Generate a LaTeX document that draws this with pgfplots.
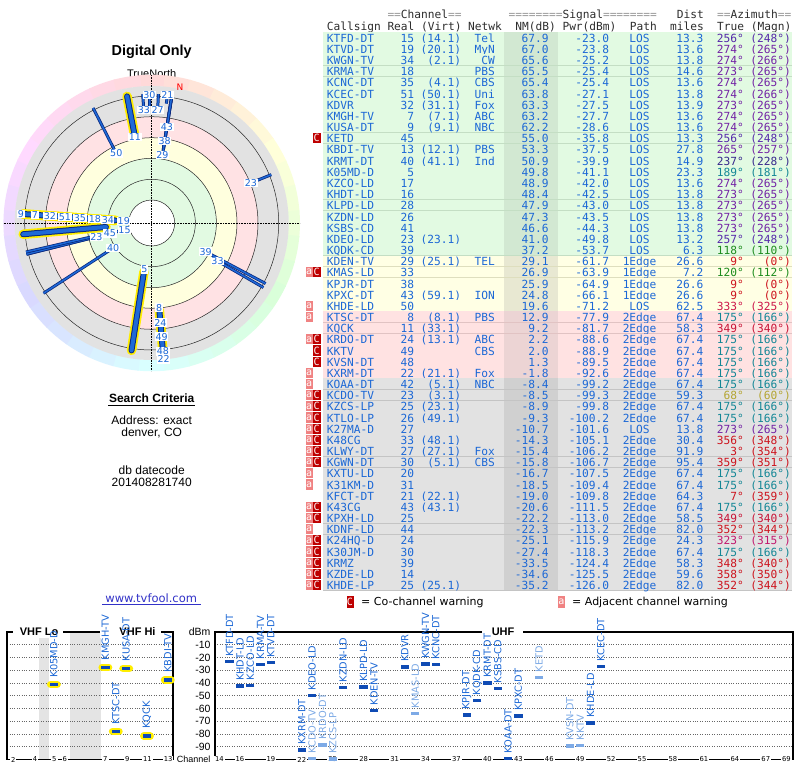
\documentclass[border=0pt]{standalone}
\usepackage{fontspec}
\setmainfont{Liberation Sans}
\newfontfamily\dejavu{DejaVu Sans}
\newfontfamily\dmono{DejaVu Sans Mono}
\usepackage{pgfplots}
\usepackage{pgfplotstable}
\pgfplotsset{compat=1.18}

% colours
\definecolor{tblue}{RGB}{28,104,214}
\definecolor{lblue}{RGB}{125,170,230}
\definecolor{mblue}{RGB}{15,75,180}
\definecolor{navy}{RGB}{10,40,125}
\definecolor{barblue}{RGB}{30,105,215}
\definecolor{vhfy}{RGB}{255,238,0}
\definecolor{hdr}{RGB}{45,45,45}
\definecolor{eqgray}{RGB}{150,150,150}
\definecolor{bgG}{RGB}{226,250,226}\definecolor{shG}{RGB}{210,232,210}\definecolor{spG}{RGB}{196,222,196}
\definecolor{bgY}{RGB}{255,255,228}\definecolor{shY}{RGB}{232,232,210}\definecolor{spY}{RGB}{222,222,190}
\definecolor{bgP}{RGB}{255,226,226}\definecolor{shP}{RGB}{236,212,212}\definecolor{spP}{RGB}{225,195,195}
\definecolor{bgK}{RGB}{226,226,226}\definecolor{shK}{RGB}{208,208,208}\definecolor{spK}{RGB}{196,196,196}
\definecolor{flagA}{RGB}{240,130,130}
\definecolor{flagC}{RGB}{190,0,0}
\definecolor{azA}{RGB}{85,40,170}
\definecolor{azB}{RGB}{115,35,165}
\definecolor{azN}{RGB}{55,40,140}
\definecolor{azT}{RGB}{20,135,150}
\definecolor{azG}{RGB}{30,140,30}
\definecolor{azR}{RGB}{205,20,30}
\definecolor{azC}{RGB}{200,20,55}
\definecolor{azM}{RGB}{205,25,75}
\definecolor{azM2}{RGB}{195,25,110}
\definecolor{azO}{RGB}{180,165,50}
\definecolor{ringgray}{RGB}{226,226,226}
\definecolor{ringpink}{RGB}{255,226,228}
\definecolor{ringyel}{RGB}{255,255,222}
\definecolor{ringgrn}{RGB}{226,250,226}
\definecolor{bandgray}{RGB}{228,228,228}
\definecolor{linkblue}{RGB}{50,50,200}

\newcommand\tfont{\dmono\fontsize{11.2}{12}\selectfont}
\newcommand\labfont{\dejavu\fontsize{9.8}{10}\selectfont}
\newcommand\plabfont{\dejavu\fontsize{9.5}{10}\selectfont}
\newcommand\tickfont{\dejavu\fontsize{6.8}{7}\selectfont}
\newcommand\yfont{\fontsize{10.5}{11}\selectfont}
\newcommand\secfont{\bfseries\fontsize{11}{12}\selectfont}

% radial bars of the polar plot: (math angle = 90 - bearing, inner radius)
\newcommand\ubar[2]{%
  \addplot[draw=navy, line width=3pt, data cs=polar] coordinates {(#1,#2) (#1,129)};
  \addplot[draw=barblue, line width=1.5pt, data cs=polar] coordinates {(#1,#2) (#1,129)};}
\newcommand\vbar[2]{%
  \addplot[draw=vhfy, line width=9.5pt, line cap=round, data cs=polar] coordinates {(#1,#2) (#1,129)};
  \addplot[draw=navy, line width=6pt, line cap=round, data cs=polar] coordinates {(#1,#2) (#1,129)};
  \addplot[draw=barblue, line width=4pt, line cap=round, data cs=polar] coordinates {(#1,#2) (#1,129)};}

% polar labels: math angle, radius, channel
\pgfplotstableread{
a r lab
-184 28 19
-184 44 34
-184 57 18
-184 72 35
-184 87 51
-184 102 32
-184 117 7
-184 131 9
-166 28 15
-166 43 45
-166 57 23
-147 46 40
-99 47 5
-85 85 8
-85 100 24
-85 114 49
-85 129 48
-85 137 22
-28 61 39
-30 76 33
22 107 23
81 69 29
81 83 38
81 97 43
83 129 21
91 128 30
94 113 33
87 113 27
101 88 11
117 78 50
}\polarlabels

% VHF: x = slot position (ch2-4 at 2-4, ch5-6 after the 72-76 MHz gap, ch7-13 after the FM gap)
\pgfplotstableread{
x y lab
5.9 -41.1 K05MD-D
10.85 -27.7 KMGH-TV
11.85 -77.9 KTSC-DT
12.85 -28.6 KUSA-DT
14.85 -81.7 KQCK
16.85 -37.5 KBDI-TV
}\vhfdata

\pgfplotstableread{
x y lab
15 -23.0 KTFD-DT
16 -42.5 KHDT-LD
17 -42.0 KZCO-LD
18 -25.4 KRMA-TV
19 -23.8 KTVD-DT
22 -92.6 KXRM-DT
23 -49.8 KDEO-LD
26 -43.5 KZDN-LD
28 -43.0 KLPD-LD
29 -61.7 KDEN-TV
32 -27.5 KDVR
34 -25.2 KWGN-TV
35 -25.4 KCNC-DT
38 -64.9 KPJR-DT
39 -53.7 KQDK-CD
40 -39.9 KRMT-DT
41 -44.3 KSBS-CD
42 -99.2 KOAA-DT
43 -66.1 KPXC-DT
50 -71.2 KHDE-LD
51 -27.1 KCEC-DT
}\uhfdark

\pgfplotstableread{
x y lab
23 -99.3 KCDO-TV
24 -88.6 KRDO-DT
25 -99.8 KZCS-LP
33 -63.9 KMAS-LD
45 -35.8 KETD
48 -89.5 KVSN-DT
49 -88.9 KKTV
}\uhflight

\begin{document}
\begin{tikzpicture}
\useasboundingbox (0pt,0pt) rectangle (800pt,768pt);
\fill[white] (0pt,0pt) rectangle (800pt,768pt);

\begin{scope}[x=1pt,y=-1pt,shift={(0pt,768pt)}]
  % ---- left panel texts
  \node[font=\bfseries\fontsize{14.4}{16}\selectfont] at (151.7,51.5) {Digital Only};
  \node[font=\fontsize{11}{12}\selectfont] at (151.7,73.5) {TrueNorth};

  % ---- polar background rings
  \coordinate (C) at (151.7,223);
  \foreach \b in {0,10,...,350}{
    \definecolor{rb}{Hsb}{\b,0.15,1}
    \draw[rb, line width=11.5pt] (C) ++(\b-95:142.5) arc[start angle=\b-95, end angle=\b-84.4, radius=142.5];
  }
  \fill[ringgray] (C) circle[radius=137];
  \fill[ringpink] (C) circle[radius=106.3];
  \fill[ringyel] (C) circle[radius=85.3];
  \fill[ringgrn] (C) circle[radius=64.7];
  \fill[white] (C) circle[radius=23];
  \foreach \r in {23,43.7,64.7,85.3,106.3,127}
    \draw[black!85, line width=0.5pt] (C) circle[radius=\r];
  \draw[densely dotted, line width=0.6pt] (151.7,75) -- (151.7,371);
  \draw[densely dotted, line width=0.6pt] (3.7,223) -- (299.7,223);

  % ---- search criteria
  \node[font=\bfseries\fontsize{12}{14}\selectfont] at (151.7,398.3) {Search Criteria};
  \draw[line width=0.8pt] (108.3,405.8) -- (195.3,405.8);
  \node[font=\fontsize{12}{14}\selectfont] at (151.7,420) {Address: exact};
  \node[font=\fontsize{12}{14}\selectfont] at (151.7,432.7) {denver, CO};
  \node[font=\fontsize{12}{14}\selectfont] at (151.7,470) {db datecode};
  \node[font=\fontsize{12}{14}\selectfont] at (151.7,482.7) {201408281740};
  \node[font=\dejavu\fontsize{11.5}{12}\selectfont, text=linkblue] at (151.2,598.3) {www.tvfool.com};
  \draw[linkblue, line width=0.7pt] (102,604.5) -- (200.5,604.5);

  % ---- VHF band gaps
  \fill[bandgray] (39,632) rectangle (49,759.5);
  \fill[bandgray] (70,632) rectangle (101,759.5);

  % ---- table
  \begin{scope}[every node/.append style={font=\tfont, inner sep=0pt}]
    \node[anchor=base west, text=hdr] at (387.3,19) {\textcolor{eqgray}{==}Channel\textcolor{eqgray}{==}};
    \node[anchor=base west, text=hdr] at (508.4,19) {\textcolor{eqgray}{========}Signal\textcolor{eqgray}{========}};
    \node[anchor=base west, text=hdr] at (676.7,19) {Dist};
    \node[anchor=base west, text=hdr] at (717.0,19) {\textcolor{eqgray}{==}Azimuth\textcolor{eqgray}{==}};
    \node[anchor=base west, text=hdr] at (326.7,30.5) {Callsign};
    \node[anchor=base west, text=hdr] at (387.3,30.5) {Real};
    \node[anchor=base west, text=hdr] at (420.9,30.5) {(Virt)};
    \node[anchor=base west, text=hdr] at (468.0,30.5) {Netwk};
    \node[anchor=base west, text=hdr] at (515.1,30.5) {NM(dB)};
    \node[anchor=base west, text=hdr] at (562.3,30.5) {Pwr(dBm)};
    \node[anchor=base west, text=hdr] at (629.6,30.5) {Path};
    \node[anchor=base west, text=hdr] at (670.0,30.5) {miles};
    \node[anchor=base west, text=hdr] at (717.0,30.5) {True};
    \node[anchor=base west, text=hdr] at (750.7,30.5) {(Magn)};

    \foreach \rCall/\rReal/\rVirt/\rNet/\rNM/\rPw/\rPath/\rDist/\rTrue/\rMag/\rAz/\rBg/\rFa/\rFc [count=\i] in {
      KTFD-DT/15/(14.1)/Tel/67.9/-23.0/LOS/13.3/256/248/azA/G/0/0,
      KTVD-DT/19/(20.1)/MyN/67.0/-23.8/LOS/13.6/274/265/azB/G/0/0,
      KWGN-TV/34/(2.1)/CW/65.6/-25.2/LOS/13.8/274/266/azB/G/0/0,
      KRMA-TV/18//PBS/65.5/-25.4/LOS/14.6/273/265/azB/G/0/0,
      KCNC-DT/35/(4.1)/CBS/65.4/-25.4/LOS/13.6/274/265/azB/G/0/0,
      KCEC-DT/51/(50.1)/Uni/63.8/-27.1/LOS/13.8/274/266/azB/G/0/0,
      KDVR/32/(31.1)/Fox/63.3/-27.5/LOS/13.9/273/265/azB/G/0/0,
      KMGH-TV/7/(7.1)/ABC/63.2/-27.7/LOS/13.6/274/265/azB/G/0/0,
      KUSA-DT/9/(9.1)/NBC/62.2/-28.6/LOS/13.6/274/265/azB/G/0/0,
      KETD/45///55.0/-35.8/LOS/13.3/256/248/azA/G/0/1,
      KBDI-TV/13/(12.1)/PBS/53.3/-37.5/LOS/27.8/265/257/azB/G/0/0,
      KRMT-DT/40/(41.1)/Ind/50.9/-39.9/LOS/14.9/237/228/azN/G/0/0,
      K05MD-D/5///49.8/-41.1/LOS/23.3/189/181/azT/G/0/0,
      KZCO-LD/17///48.9/-42.0/LOS/13.6/274/265/azB/G/0/0,
      KHDT-LD/16///48.4/-42.5/LOS/13.8/273/265/azB/G/0/0,
      KLPD-LD/28///47.9/-43.0/LOS/13.8/273/265/azB/G/0/0,
      KZDN-LD/26///47.3/-43.5/LOS/13.8/273/265/azB/G/0/0,
      KSBS-CD/41///46.6/-44.3/LOS/13.8/273/265/azB/G/0/0,
      KDEO-LD/23/(23.1)//41.0/-49.8/LOS/13.2/257/248/azA/G/0/0,
      KQDK-CD/39///37.2/-53.7/LOS/6.3/118/110/azG/G/0/0,
      KDEN-TV/29/(25.1)/TEL/29.1/-61.7/1Edge/26.6/9/0/azR/Y/0/0,
      KMAS-LD/33///26.9/-63.9/1Edge/7.2/120/112/azG/Y/1/1,
      KPJR-DT/38///25.9/-64.9/1Edge/26.6/9/0/azR/Y/0/0,
      KPXC-DT/43/(59.1)/ION/24.8/-66.1/1Edge/26.6/9/0/azR/Y/0/0,
      KHDE-LD/50///19.6/-71.2/LOS/62.5/333/325/azM/Y/1/0,
      KTSC-DT/8/(8.1)/PBS/12.9/-77.9/2Edge/67.4/175/166/azT/P/1/0,
      KQCK/11/(33.1)//9.2/-81.7/2Edge/58.3/349/340/azC/P/0/0,
      KRDO-DT/24/(13.1)/ABC/2.2/-88.6/2Edge/67.4/175/166/azT/P/1/1,
      KKTV/49//CBS/2.0/-88.9/2Edge/67.4/175/166/azT/P/0/1,
      KVSN-DT/48///1.3/-89.5/2Edge/67.4/175/166/azT/P/0/1,
      KXRM-DT/22/(21.1)/Fox/-1.8/-92.6/2Edge/67.4/175/166/azT/P/1/0,
      KOAA-DT/42/(5.1)/NBC/-8.4/-99.2/2Edge/67.4/175/166/azT/K/1/0,
      KCDO-TV/23/(3.1)//-8.5/-99.3/2Edge/59.3/68/60/azO/K/1/1,
      KZCS-LP/25/(23.1)//-8.9/-99.8/2Edge/67.4/175/166/azT/K/1/1,
      KTLO-LP/26/(49.1)//-9.3/-100.2/2Edge/67.4/175/166/azT/K/1/1,
      K27MA-D/27///-10.7/-101.6/LOS/13.8/273/265/azB/K/1/1,
      K48CG/33/(48.1)//-14.3/-105.1/2Edge/30.4/356/348/azR/K/1/1,
      KLWY-DT/27/(27.1)/Fox/-15.4/-106.2/2Edge/91.9/3/354/azR/K/1/1,
      KGWN-DT/30/(5.1)/CBS/-15.8/-106.7/2Edge/95.4/359/351/azR/K/1/1,
      KXTU-LD/20///-16.7/-107.5/2Edge/67.4/175/166/azT/K/1/0,
      K31KM-D/31///-18.5/-109.4/2Edge/67.4/175/166/azT/K/1/0,
      KFCT-DT/21/(22.1)//-19.0/-109.8/2Edge/64.3/7/359/azR/K/0/0,
      K43CG/43/(43.1)//-20.6/-111.5/2Edge/67.4/175/166/azT/K/1/1,
      KPXH-LD/25///-22.2/-113.0/2Edge/58.5/349/340/azC/K/1/1,
      KDNF-LD/44///-22.3/-113.2/2Edge/82.0/352/344/azR/K/1/0,
      K24HQ-D/24///-25.1/-115.9/2Edge/24.3/323/315/azM2/K/1/1,
      K30JM-D/30///-27.4/-118.3/2Edge/67.4/175/166/azT/K/1/1,
      KRMZ/39///-33.5/-124.4/2Edge/58.3/348/340/azR/K/1/1,
      KZDE-LD/14///-34.6/-125.5/2Edge/59.6/358/350/azR/K/1/1,
      KHDE-LP/25/(25.1)//-35.2/-126.0/2Edge/82.0/352/344/azR/K/1/1}{
      \pgfmathsetmacro\yc{37.7+(\i-1)*11.17}
      \pgfmathsetmacro\yb{\yc+4.6}
      \path[fill=bg\rBg] (323,\yc-5.585) rectangle (792,\yc+5.585);
      \path[fill=sh\rBg] (504,\yc-5.585) rectangle (558,\yc+5.585);
      \draw[sp\rBg, line width=0.7pt] (323,\yc+5.585) -- (792,\yc+5.585);
      \ifnum\rFa=1
        \fill[flagA] (305.5,\yc-5.1) rectangle (313,\yc+5.1);
        \node[text=white, font=\dmono\fontsize{10}{10}\selectfont] at (309.25,\yc) {a};
      \fi
      \ifnum\rFc=1
        \fill[flagC] (313,\yc-5.1) rectangle (320.5,\yc+5.1);
        \node[text=white, font=\dmono\fontsize{10}{10}\selectfont] at (316.75,\yc) {C};
      \fi
      \node[anchor=base west, text=tblue] at (326.7,\yb) {\rCall};
      \node[anchor=base east, text=tblue] at (414.2,\yb) {\rReal};
      \node[anchor=base east, text=tblue] at (461.3,\yb) {\rVirt};
      \node[anchor=base east, text=tblue] at (495.0,\yb) {\rNet};
      \node[anchor=base east, text=tblue] at (548.8,\yb) {\rNM};
      \node[anchor=base east, text=tblue] at (609.4,\yb) {\rPw};
      \node[anchor=base, text=tblue] at (639.6,\yb) {\rPath};
      \node[anchor=base east, text=tblue] at (703.6,\yb) {\rDist};
      \node[anchor=base east, text=\rAz] at (744.0,\yb) {\rTrue°};
      \node[anchor=base east, text=\rAz] at (791.1,\yb) {(\rMag°)};
    }
  \end{scope}

  % ---- warning legend
  \fill[flagC] (346.5,596) rectangle (353.5,608);
  \node[text=white, font=\dmono\fontsize{10}{10}\selectfont] at (350,602) {C};
  \node[anchor=west, inner sep=0pt, font=\dejavu\fontsize{11}{12}\selectfont] at (361,602.5) {= Co-channel warning};
  \fill[flagA] (558,596) rectangle (565,608);
  \node[text=white, font=\dmono\fontsize{10}{10}\selectfont] at (561.5,602) {a};
  \node[anchor=west, inner sep=0pt, font=\dejavu\fontsize{11}{12}\selectfont] at (572,602.5) {= Adjacent channel warning};
\end{scope}

% ================= polar plot =================
\begin{axis}[at={(151.7pt,545pt)}, anchor=center, x=1pt, y=1pt,
  xmin=-150, xmax=150, ymin=-150, ymax=150, hide axis, clip=false]
  % UHF stations
  \ubar{-166}{30.8}  % 15
  \ubar{-184}{31.7}  % 19
  \ubar{-184}{33.2}  % 34
  \ubar{-183}{33.3}  % 18
  \ubar{-184}{33.4}  % 35
  \ubar{-184}{35.0}  % 51
  \ubar{-183}{35.6}  % 32
  \ubar{-166}{44.1}  % 45
  \ubar{-147}{48.3}  % 40
  \ubar{-184}{50.4}  % 17
  \ubar{-183}{50.9}  % 16
  \ubar{-183}{51.4}  % 28
  \ubar{-183}{52.0}  % 26
  \ubar{-183}{52.8}  % 41
  \ubar{-167}{58.5}  % 23
  \ubar{-28}{62.4}   % 39
  \ubar{81}{70.8}    % 29
  \ubar{-30}{73.0}   % 33
  \ubar{81}{74.1}    % 38
  \ubar{81}{75.2}    % 43
  \ubar{117}{80.6}   % 50
  \ubar{-85}{98.5}   % 24
  \ubar{-85}{98.7}   % 49
  \ubar{-85}{99.4}   % 48
  \ubar{-85}{102.6}  % 22
  \ubar{-85}{109.4}  % 42
  \ubar{22}{109.5}   % 23
  \ubar{-85}{109.9}  % 25
  \ubar{-85}{110.3}  % 26
  \ubar{-183}{111.8} % 27
  \ubar{94}{115.5}   % 33
  \ubar{87}{116.6}   % 27
  \ubar{91}{117.0}   % 30
  \ubar{-85}{118.1}  % 20
  \ubar{-85}{119.9}  % 31
  \ubar{83}{120.3}   % 21
  % VHF stations
  \vbar{-184}{35.7}  % 7
  \vbar{-184}{36.7}  % 9
  \vbar{-175}{45.9}  % 13
  \vbar{-99}{49.5}   % 5
  \vbar{-85}{87.5}   % 8
  \vbar{101}{91.3}   % 11
  \addplot[only marks, mark=none, data cs=polar, nodes near coords, point meta=explicit symbolic,
    nodes near coords style={anchor=center, fill=white, inner sep=0.6pt, text=tblue, font=\plabfont}]
    table[x=a, y=r, meta=lab] {\polarlabels};
\end{axis}
\node[text=red, font=\dejavu\fontsize{9}{9}\selectfont] at (180pt,681pt) {N};

% ================= VHF channel panel =================
\begin{axis}[at={(7.3pt,8.5pt)}, anchor=south west, x=10.4pt, y=1.275pt,
  xmin=1.42, xmax=17.36, ymin=-100, ymax=0, clip=false,
  axis line style={line width=1.8pt, black},
  major tick length=0pt,
  ytick={-90,-80,...,-10}, yticklabels={},
  ymajorgrids, grid style={dotted, black!60, line width=0.6pt},
  xtick={2,4.08,5.95,6.95,10.85,12.95,14.9,16.88},
  xticklabels={2,4,5,6,7,9,11,13},
  xticklabel style={font=\tickfont, fill=white, inner sep=1pt, anchor=center}]
  \fill[white] (axis cs:1.97,-5) rectangle (axis cs:6.78,5);
  \node[font=\secfont] at (axis cs:4.47,0) {VHF Lo};
  \fill[white] (axis cs:10.34,-5) rectangle (axis cs:16.2,5);
  \node[font=\secfont] at (axis cs:13.94,0) {VHF Hi};
  \addplot[only marks, mark=-, mark size=3.2pt, mark options={draw=vhfy, line width=7.5pt, line cap=round}]
    table[x=x, y=y] {\vhfdata};
  \addplot[only marks, mark=-, mark size=4.2pt, mark options={draw=mblue, line width=3.6pt},
    nodes near coords, point meta=explicit symbolic,
    nodes near coords style={rotate=90, anchor=west, text=tblue, font=\labfont, inner sep=0pt, inner xsep=5.5pt}]
    table[x=x, y=y, meta=lab] {\vhfdata};
\end{axis}

% ================= UHF channel panel =================
\begin{axis}[at={(215pt,8.5pt)}, anchor=south west, x=10.31pt, y=1.275pt,
  xmin=13.58, xmax=69.67, ymin=-100, ymax=0, clip=false,
  axis line style={line width=1.8pt, black},
  major tick length=0pt,
  ytick={-100,-90,...,0},
  yticklabels={{\fontsize{9}{9}\selectfont Channel},-90,-80,-70,-60,-50,-40,-30,-20,-10,dBm},
  yticklabel style={font=\yfont, anchor=east, xshift=-1pt},
  ymajorgrids, grid style={dotted, black!60, line width=0.6pt},
  xtick={14,16,19,22,25,28,31,34,37,40,43,46,49,52,55,58,61,64,67,69},
  xticklabels={14,16,19,22,25,28,31,34,37,40,43,46,49,52,55,58,61,64,67,69},
  xticklabel style={font=\tickfont, fill=white, inner sep=1pt, anchor=center}]
  \fill[white] (axis cs:39.48,-5) rectangle (axis cs:43.46,5);
  \node[font=\secfont] at (axis cs:41.52,0) {UHF};
  \addplot[only marks, mark=-, mark size=4.2pt, mark options={draw=lblue, line width=3.6pt},
    nodes near coords, point meta=explicit symbolic,
    nodes near coords style={rotate=90, anchor=west, text=lblue, font=\labfont, inner sep=0pt, inner xsep=3.5pt}]
    table[x=x, y=y, meta=lab] {\uhflight};
  \addplot[only marks, mark=-, mark size=4.2pt, mark options={draw=mblue, line width=3.6pt},
    nodes near coords, point meta=explicit symbolic,
    nodes near coords style={rotate=90, anchor=west, text=tblue, font=\labfont, inner sep=0pt, inner xsep=3.5pt}]
    table[x=x, y=y, meta=lab] {\uhfdark};
\end{axis}
\end{tikzpicture}
\end{document}
